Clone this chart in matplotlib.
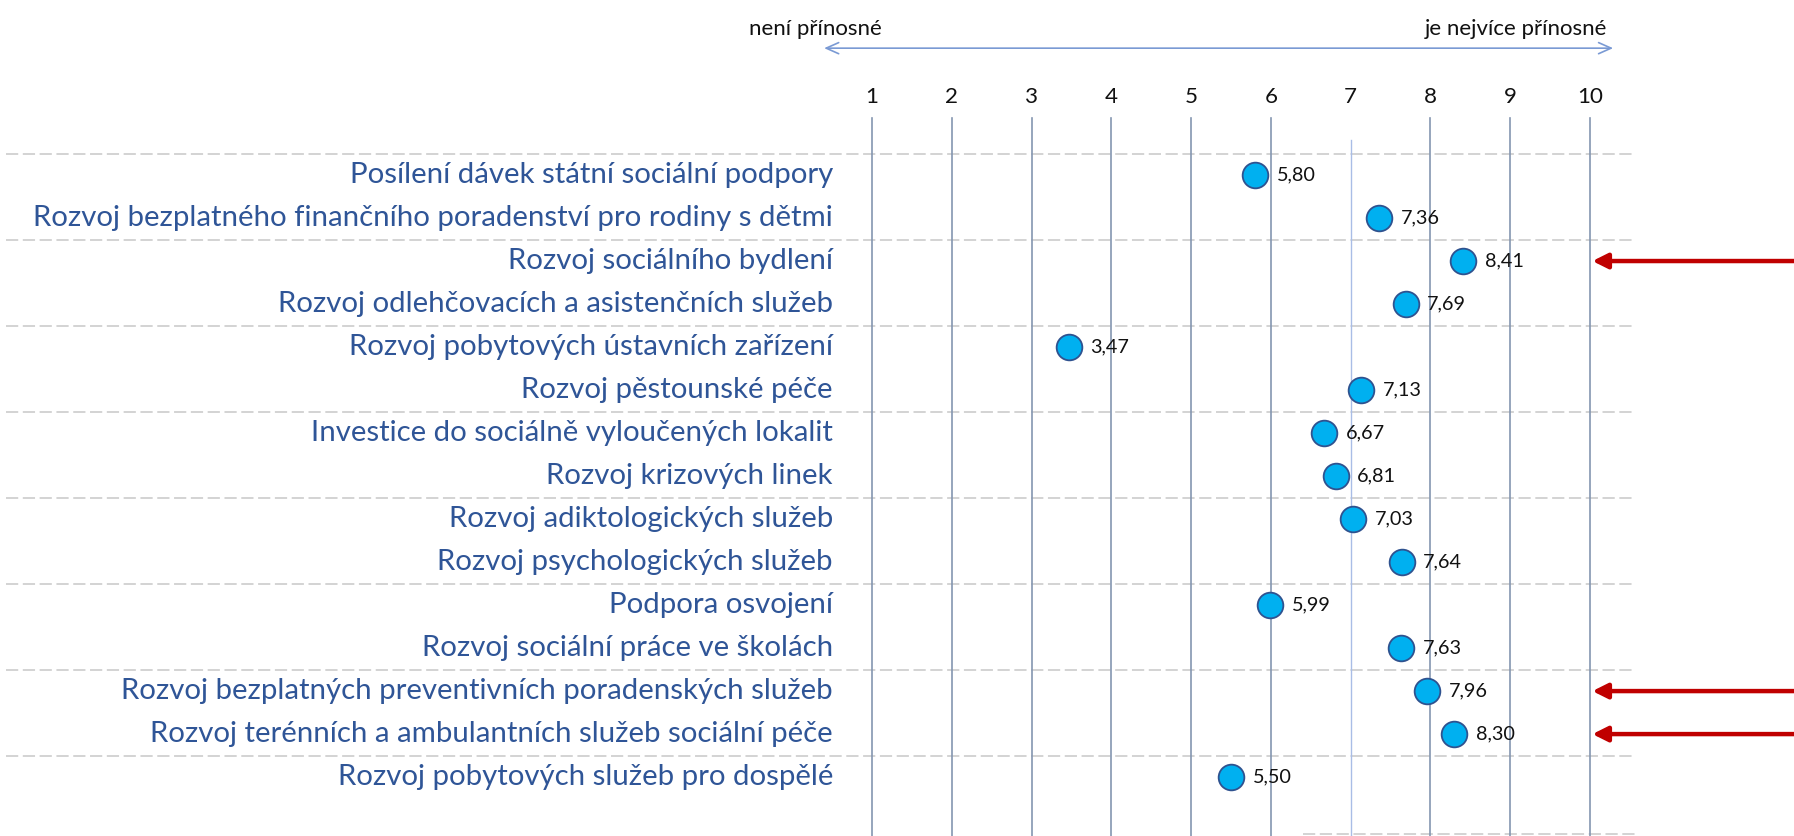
import matplotlib
matplotlib.use("Agg")
import matplotlib.pyplot as plt

# --- data -------------------------------------------------------------
categories = [
    "Posílení dávek státní sociální podpory",
    "Rozvoj bezplatného finančního poradenství pro rodiny s dětmi",
    "Rozvoj sociálního bydlení",
    "Rozvoj odlehčovacích a asistenčních služeb",
    "Rozvoj pobytových ústavních zařízení",
    "Rozvoj pěstounské péče",
    "Investice do sociálně vyloučených lokalit",
    "Rozvoj krizových linek",
    "Rozvoj adiktologických služeb",
    "Rozvoj psychologických služeb",
    "Podpora osvojení",
    "Rozvoj sociální práce ve školách",
    "Rozvoj bezplatných preventivních poradenských služeb",
    "Rozvoj terénních a ambulantních služeb sociální péče",
    "Rozvoj pobytových služeb pro dospělé",
]
scores = [5.80, 7.36, 8.41, 7.69, 3.47, 7.13, 6.67, 6.81,
          7.03, 7.64, 5.99, 7.63, 7.96, 8.30, 5.50]
scale_ticks = [1, 2, 3, 4, 5, 6, 7, 8, 9, 10]
highlighted = [2, 12, 13]          # rows marked with red arrows
group_breaks = [-0.5, 1.5, 3.5, 5.5, 7.5, 9.5, 11.5, 13.5]
left_note = "není přínosné"
right_note = "je nejvíce přínosné"

FONT = "Lato"
LABEL_BLUE = "#2F5597"
GRID = "#8496B0"

fig = plt.figure(figsize=(17.94, 8.36), dpi=100)
ax = fig.add_axes([0, 0, 1, 1])
ax.set_xlim(-9.93, 12.557)
ax.set_ylim(15.37, -4.07)
ax.axis("off")

renderer = fig.canvas.get_renderer()


def fit_size(txt, width_px):
    t = fig.text(0, 0, txt, fontsize=10, family=FONT)
    w = t.get_window_extent(renderer).width
    t.remove()
    return 10 * width_px / w


cat_fs = fit_size(categories[1], 801)
val_fs = fit_size("7,13", 39)
tick_fs = fit_size("10", 26)
note_fs = fit_size(left_note, 133)

# vertical scale lines
for v in scale_ticks:
    if v == 7:
        ax.plot([v, v], [-0.81, 15.37], color="#A9BDE6", lw=1.0, zorder=1)
    else:
        ax.plot([v, v], [-1.33, 15.37], color=GRID, lw=1.2, zorder=1)
    ax.text(v, -1.81, str(v), ha="center", va="center", fontsize=tick_fs,
            family=FONT, color="#111111")

# dashed group separators
for yb in group_breaks:
    ax.plot([-9.85, 10.58], [yb, yb], color="#C8C8C8", lw=1.1,
            ls=(0, (8, 3)), zorder=0)
ax.plot([6.4, 10.58], [15.33, 15.33], color="#C8C8C8", lw=1.1,
        ls=(0, (8, 3)), zorder=0)

# category labels
rows = list(range(len(categories)))
for i, name in zip(rows, categories):
    ax.text(0.51, i, name, ha="right", va="center", fontsize=cat_fs,
            family=FONT, color=LABEL_BLUE)

# points and value labels
ax.plot(scores, rows, "o", ms=18.5, mfc="#00B0F0", mec="#2F528F", mew=1.3,
        ls="none", zorder=3)
for i, s in zip(rows, scores):
    ax.text(s + 0.27, i, f"{s:.2f}".replace(".", ","), ha="left",
            va="center", fontsize=val_fs, family=FONT, color="#111111",
            zorder=4)

# red arrows
for i in highlighted:
    ax.annotate("", xy=(10.03, i), xytext=(12.6, i),
                arrowprops=dict(arrowstyle="-|>,head_length=0.9,head_width=0.45",
                                color="#C00000", lw=3.2, shrinkA=0, shrinkB=0))

# top direction arrow with notes
ax.annotate("", xy=(0.40, -2.95), xytext=(10.29, -2.95),
            arrowprops=dict(arrowstyle="<->,head_length=0.9,head_width=0.4",
                            color="#7A9AD4", lw=1.2, shrinkA=0, shrinkB=0))
ax.text(0.285, -3.40, left_note, ha="center", va="center", fontsize=note_fs,
        family=FONT, color="#111111")
ax.text(10.21, -3.40, right_note, ha="right", va="center", fontsize=note_fs,
        family=FONT, color="#111111")

fig.savefig("out.png", dpi=100, facecolor="white")
